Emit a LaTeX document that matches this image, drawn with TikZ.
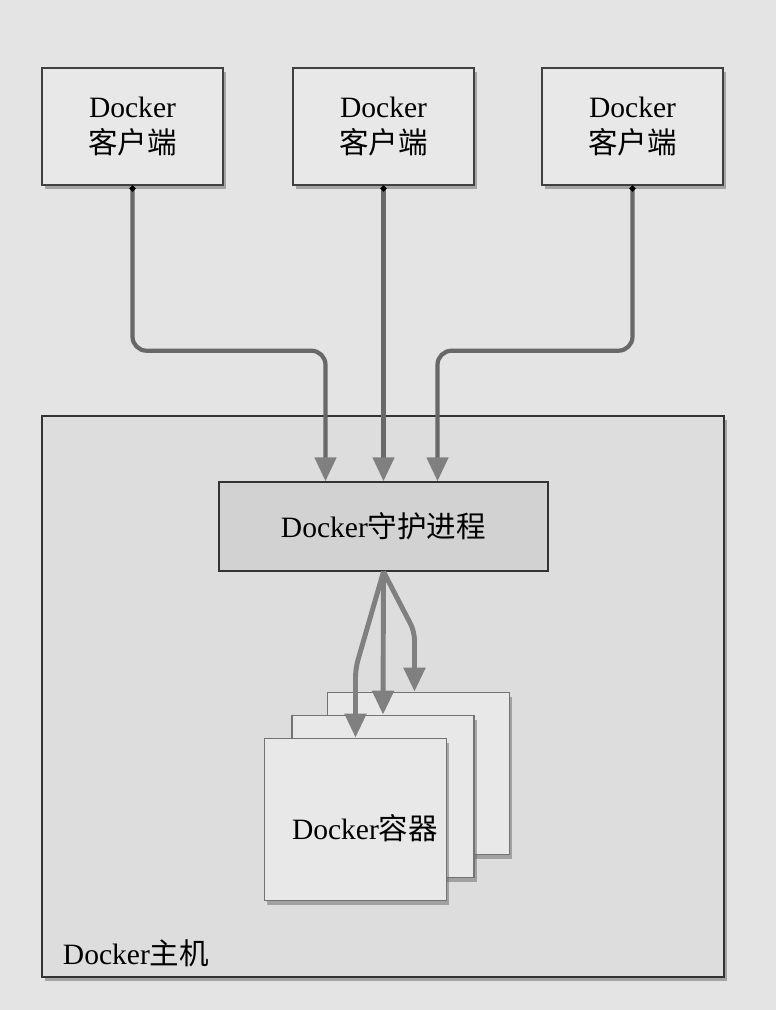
\documentclass[tikz,border=0pt]{standalone}
\usepackage{fontspec}
\setmainfont{Liberation Serif}
\newfontfamily\cjk{Noto Sans CJK SC}
\usetikzlibrary{arrows.meta,shadows}

\definecolor{bgcol}{HTML}{E4E4E4}
\definecolor{boxcol}{HTML}{E8E8E8}
\definecolor{hostcol}{HTML}{DDDDDD}
\definecolor{daemoncol}{HTML}{D2D2D2}
\definecolor{linkcol}{HTML}{686868}
\definecolor{arrowcol}{HTML}{808080}

\begin{document}
\begin{tikzpicture}[
    x=0.025cm, y=-0.025cm,
    every node/.style={font=\fontsize{21}{25}\selectfont},
    client/.style={draw=black!75, line width=1pt, fill=boxcol, align=center,
        minimum width=4.525cm, minimum height=2.925cm,
        drop shadow={shadow xshift=2pt, shadow yshift=-3pt, fill=black!60, opacity=0.5}},
    hostbox/.style={draw=black!80, line width=1.2pt, fill=hostcol,
        minimum width=17.05cm, minimum height=14.025cm,
        drop shadow={shadow xshift=2pt, shadow yshift=-3pt, fill=black!60, opacity=0.5}},
    daemonbox/.style={draw=black!80, line width=1pt, fill=daemoncol,
        minimum width=8.225cm, minimum height=2.225cm},
    container/.style={draw=black!55, line width=1.3pt, fill=boxcol,
        minimum width=4.55cm, minimum height=4.05cm,
        drop shadow={shadow xshift=2pt, shadow yshift=-3pt, fill=black!60, opacity=0.5}},
    link/.style={linkcol, line width=3pt, rounded corners=10pt,
        {Circle[length=4pt,color=black]}-{Triangle[length=17pt,width=15pt,color=arrowcol]}},
    spawn/.style={arrowcol, line width=3.5pt, rounded corners=6pt,
        -{Triangle[length=17pt,width=15pt]}}
]

% background
\fill[bgcol] (0,0) rectangle (776,1010);

% clients
\node[client] (clientA) at (132.5,126.5) {Docker\\{\cjk 客户端}};
\node[client] (clientB) at (383.5,126.5) {Docker\\{\cjk 客户端}};
\node[client] (clientC) at (632.5,126.5) {Docker\\{\cjk 客户端}};

% host
\node[hostbox] (host) at (383,696.5) {};
\node[anchor=west] (hostlabel) at (58,953) {Docker{\cjk 主机}};

\node[daemonbox] (daemon) at (383.5,526.5) {Docker{\cjk 守护进程}};

% containers, back to front
\node[container] (ctrC) at (418.5,773.5) {};
\node[container] (ctrB) at (383,796.5) {};
\node[container] (ctrA) at (355.5,819.5) {};
\node (ctrlabel) at (365,828) {Docker{\cjk 容器}};

% clients to daemon
\draw[link] (clientA.south) -- ++(0,165) -| ([xshift=-1.45cm]daemon.north);
\draw[link] (clientB.south) -- (daemon.north);
\draw[link] (clientC.south) -- ++(0,165) -| ([xshift=1.35cm]daemon.north);

% daemon to containers
\draw[spawn] (daemon.south) -- ([yshift=1.725cm]ctrA.north) -- (ctrA.north);
\draw[spawn] (daemon.south) -- (ctrB.north);
\draw[spawn] (daemon.south) -- ([xshift=-0.1cm,yshift=1.5cm]ctrC.north) -- ([xshift=-0.1cm]ctrC.north);

\end{tikzpicture}
\end{document}
